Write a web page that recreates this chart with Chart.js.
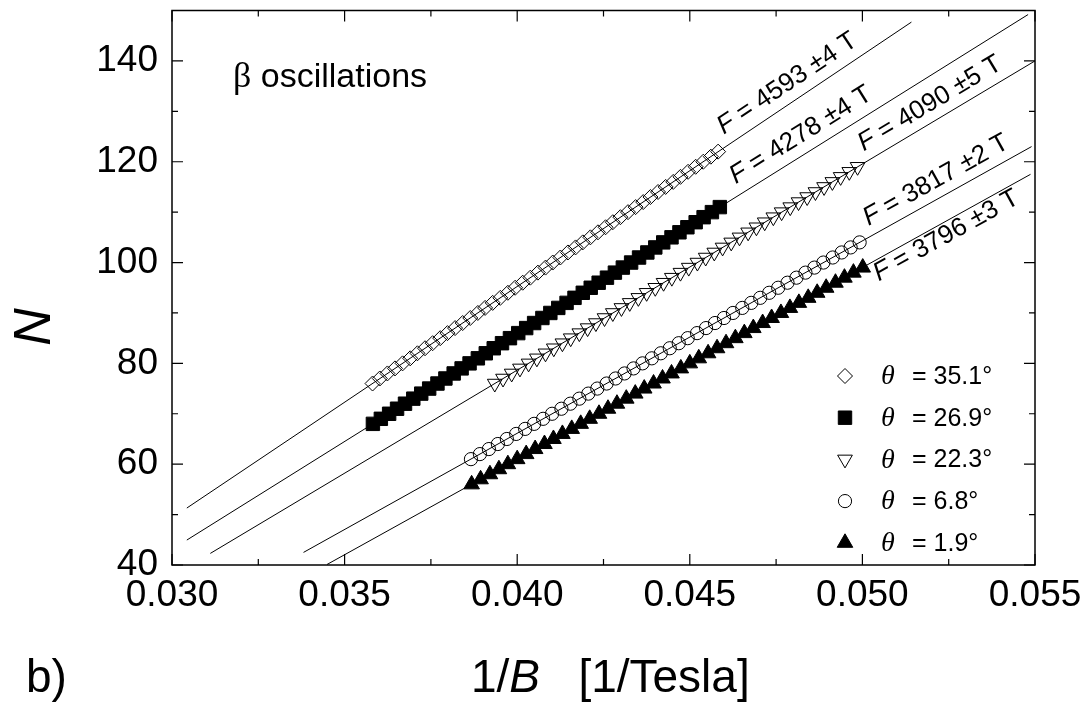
<!DOCTYPE html>
<html>
<head>
<meta charset="utf-8">
<script src="https://cdn.jsdelivr.net/npm/chart.js@4/dist/chart.umd.min.js"></script>
<style>
  html, body { margin: 0; padding: 0; background: #fff; }
  canvas { display: block; }
</style>
</head>
<body>
<canvas id="c" width="1086" height="704"></canvas>
<script>
// ---- axis ticks ----
const xTickValues = [0.030, 0.035, 0.040, 0.045, 0.050, 0.055];
const xTickLabels = ['0.030', '0.035', '0.040', '0.045', '0.050', '0.055'];
const xMinorTicks = [0.0325, 0.0375, 0.0425, 0.0475, 0.0525];
const yTickValues = [40, 60, 80, 100, 120, 140];
const yTickLabels = ['40', '60', '80', '100', '120', '140'];
const yMinorTicks = [50, 70, 90, 110, 130];

// ---- Landau level index N versus 1/B for each tilt angle ----
const angleLabels = ['35.1°', '26.9°', '22.3°', '6.8°', '1.9°'];

const nA = [76,77,78,79,80,81,82,83,84,85,86,87,88,89,90,91,92,93,94,95,96,97,98,99,100,101,102,103,104,105,106,107,108,109,110,111,112,113,114,115,116,117,118,119,120,121,122];
const invBA = [0.03581,0.03602,0.03624,0.03646,0.03668,0.03690,0.03711,0.03733,0.03755,0.03777,0.03798,0.03820,0.03842,0.03864,0.03886,0.03907,0.03929,0.03951,0.03973,0.03994,0.04016,0.04038,0.04060,0.04082,0.04103,0.04125,0.04147,0.04169,0.04190,0.04212,0.04234,0.04256,0.04277,0.04299,0.04321,0.04343,0.04365,0.04386,0.04408,0.04430,0.04452,0.04473,0.04495,0.04517,0.04539,0.04561,0.04582];

const nB = [68,69,70,71,72,73,74,75,76,77,78,79,80,81,82,83,84,85,86,87,88,89,90,91,92,93,94,95,96,97,98,99,100,101,102,103,104,105,106,107,108,109,110,111];
const invBB = [0.03582,0.03605,0.03629,0.03652,0.03675,0.03699,0.03722,0.03745,0.03769,0.03792,0.03816,0.03839,0.03862,0.03886,0.03909,0.03932,0.03956,0.03979,0.04003,0.04026,0.04049,0.04073,0.04096,0.04119,0.04143,0.04166,0.04190,0.04213,0.04236,0.04260,0.04283,0.04306,0.04330,0.04353,0.04377,0.04400,0.04423,0.04447,0.04470,0.04493,0.04517,0.04540,0.04564,0.04587];

const nC = [76,77,78,79,80,81,82,83,84,85,86,87,88,89,90,91,92,93,94,95,96,97,98,99,100,101,102,103,104,105,106,107,108,109,110,111,112,113,114,115,116,117,118,119];
const invBC = [0.03935,0.03959,0.03984,0.04008,0.04033,0.04057,0.04082,0.04106,0.04131,0.04155,0.04180,0.04204,0.04228,0.04253,0.04277,0.04302,0.04326,0.04351,0.04375,0.04400,0.04424,0.04448,0.04473,0.04497,0.04522,0.04546,0.04571,0.04595,0.04620,0.04644,0.04669,0.04693,0.04717,0.04742,0.04766,0.04791,0.04815,0.04840,0.04864,0.04889,0.04913,0.04937,0.04962,0.04986];

const nD = [61,62,63,64,65,66,67,68,69,70,71,72,73,74,75,76,77,78,79,80,81,82,83,84,85,86,87,88,89,90,91,92,93,94,95,96,97,98,99,100,101,102,103,104];
const invBD = [0.03866,0.03892,0.03918,0.03944,0.03970,0.03997,0.04023,0.04049,0.04075,0.04101,0.04128,0.04154,0.04180,0.04206,0.04232,0.04259,0.04285,0.04311,0.04337,0.04363,0.04390,0.04416,0.04442,0.04468,0.04494,0.04521,0.04547,0.04573,0.04599,0.04625,0.04652,0.04678,0.04704,0.04730,0.04756,0.04783,0.04809,0.04835,0.04861,0.04887,0.04914,0.04940,0.04966,0.04992];

const nE = [56,57,58,59,60,61,62,63,64,65,66,67,68,69,70,71,72,73,74,75,76,77,78,79,80,81,82,83,84,85,86,87,88,89,90,91,92,93,94,95,96,97,98,99];
const invBE = [0.03868,0.03894,0.03921,0.03947,0.03973,0.04000,0.04026,0.04052,0.04079,0.04105,0.04131,0.04158,0.04184,0.04210,0.04237,0.04263,0.04289,0.04316,0.04342,0.04368,0.04395,0.04421,0.04447,0.04474,0.04500,0.04526,0.04553,0.04579,0.04605,0.04632,0.04658,0.04684,0.04711,0.04737,0.04764,0.04790,0.04816,0.04843,0.04869,0.04895,0.04922,0.04948,0.04974,0.05001];

// ---- linear fits: frequency, error and drawn segment ----
const fitFreq = [4593, 4278, 4090, 3817, 3796];
const fitErr = [4, 4, 5, 2, 3];
const fitStartX = [0.03043, 0.03043, 0.03111, 0.03381, 0.03449];
const fitStartN = [51.3, 44.95, 42.3, 42.5, 40.1];
const fitEndX = [0.05142, 0.0548, 0.0550, 0.0549, 0.05487];
const fitEndN = [147.7, 149.2, 140.0, 123.0, 117.5];

const pts = (xs, ns) => xs.map((x, i) => ({ x: x, y: ns[i] }));
const series = [pts(invBA, nA), pts(invBB, nB), pts(invBC, nC), pts(invBD, nD), pts(invBE, nE)];

// marker look for each angle (plot, legend)
const markers = [
  { pointStyle: 'rectRot', radius: 7.5, rotation: 0, fill: 'rgba(0,0,0,0)', legendRotation: 0 },
  { pointStyle: 'rect', radius: 9.5, rotation: 0, fill: '#000', legendRotation: 0 },
  { pointStyle: 'triangle', radius: 8.5, rotation: 60, fill: 'rgba(0,0,0,0)', legendRotation: 180 },
  { pointStyle: 'circle', radius: 6.6, rotation: 0, fill: 'rgba(0,0,0,0)', legendRotation: 0 },
  { pointStyle: 'triangle', radius: 9, rotation: 0, fill: '#000', legendRotation: 0 }
];

const datasets = [];
series.forEach((data, i) => {
  const m = markers[i];
  datasets.push({
    label: angleLabels[i],
    data: data,
    showLine: false,
    order: 0,
    pointStyle: m.pointStyle,
    pointRadius: m.radius,
    pointRotation: m.rotation,
    pointBackgroundColor: m.fill,
    pointBorderColor: '#000',
    pointBorderWidth: 1
  });
});
fitFreq.forEach((f, i) => {
  datasets.push({
    label: 'fit ' + f,
    data: [{ x: fitStartX[i], y: fitStartN[i] }, { x: fitEndX[i], y: fitEndN[i] }],
    showLine: true,
    order: 1,
    pointRadius: 0,
    borderColor: '#000',
    borderWidth: 1,
    fill: false
  });
});

const SANS = '"Liberation Sans", Arial, sans-serif';
const SERIF = '"Liberation Serif", "Times New Roman", serif';

function drawRuns(ctx, runs, x, y) {
  let cx = x;
  runs.forEach(r => {
    ctx.font = r[1];
    ctx.fillText(r[0], cx, y);
    cx += ctx.measureText(r[0]).width;
  });
  return cx;
}

const decorations = {
  id: 'decorations',
  afterDraw(chart, args, opts) {
    const ctx = chart.ctx;
    const a = chart.chartArea;
    const xs = chart.scales.x, ys = chart.scales.y;
    ctx.save();
    ctx.strokeStyle = '#000';
    ctx.fillStyle = '#000';

    // frame
    ctx.lineWidth = 1.5;
    ctx.strokeRect(a.left, a.top, a.right - a.left, a.bottom - a.top);

    // inward ticks on all four sides
    ctx.lineWidth = 1.2;
    ctx.beginPath();
    const tick = (vals, len) => {
      vals.forEach(v => {
        const px = xs.getPixelForValue(v);
        ctx.moveTo(px, a.bottom); ctx.lineTo(px, a.bottom - len);
        ctx.moveTo(px, a.top); ctx.lineTo(px, a.top + len);
      });
    };
    const tickY = (vals, len) => {
      vals.forEach(v => {
        const py = ys.getPixelForValue(v);
        ctx.moveTo(a.left, py); ctx.lineTo(a.left + len, py);
        ctx.moveTo(a.right, py); ctx.lineTo(a.right - len, py);
      });
    };
    tick(xTickValues, 11); tick(xMinorTicks, 6);
    tickY(yTickValues, 11); tickY(yMinorTicks, 6);
    ctx.stroke();

    // fit labels along each line
    ctx.textBaseline = 'alphabetic';
    ctx.textAlign = 'left';
    fitFreq.forEach((f, i) => {
      const x0 = xs.getPixelForValue(fitStartX[i]), y0 = ys.getPixelForValue(fitStartN[i]);
      const x1 = xs.getPixelForValue(fitEndX[i]), y1 = ys.getPixelForValue(fitEndN[i]);
      const ang = Math.atan2(y1 - y0, x1 - x0);
      const t = (opts.labelAt[i] - fitStartX[i]) / (fitEndX[i] - fitStartX[i]);
      ctx.save();
      ctx.translate(x0 + t * (x1 - x0), y0 + t * (y1 - y0));
      ctx.rotate(ang);
      drawRuns(ctx, [
        ['F', 'italic 26px ' + SANS],
        [' = ' + f + ' \u00B1' + fitErr[i] + ' T', '26px ' + SANS]
      ], 0, opts.labelOffset[i]);
      ctx.restore();
    });

    // legend
    const lx = opts.legend.x, ly = opts.legend.y, step = opts.legend.step;
    angleLabels.forEach((lab, i) => {
      const m = markers[i];
      const y = ly + i * step;
      ctx.fillStyle = m.fill === '#000' ? '#000' : '#fff';
      ctx.strokeStyle = '#000';
      ctx.lineWidth = 1;
      Chart.helpers.drawPoint(ctx, {
        pointStyle: m.pointStyle, radius: m.radius, rotation: m.legendRotation, borderWidth: 1
      }, lx, y);
      ctx.fillStyle = '#000';
      ctx.textBaseline = 'middle';
      ctx.font = 'italic 28px ' + SERIF;
      ctx.fillText('\u03B8', lx + 36, y + 1);
      ctx.font = '25px ' + SANS;
      ctx.fillText('= ' + lab, lx + 67, y + 1);
    });

    // panel title
    ctx.textBaseline = 'alphabetic';
    drawRuns(ctx, [['\u03B2', '36px ' + SERIF], [' oscillations', '34px ' + SANS]], 233, 87);

    // x axis title and panel tag
    drawRuns(ctx, [['1/', '46px ' + SANS], ['B', 'italic 46px ' + SANS], ['   [1/Tesla]', '46px ' + SANS]], 471, 692);
    ctx.font = '46px ' + SANS;
    ctx.fillText('b)', 26, 692);

    // y axis title
    ctx.save();
    ctx.translate(50, 327);
    ctx.rotate(-Math.PI / 2);
    ctx.font = 'italic 52px ' + SANS;
    ctx.textAlign = 'center';
    ctx.fillText('N', 0, 0);
    ctx.restore();

    ctx.restore();
  }
};

new Chart(document.getElementById('c'), {
  type: 'scatter',
  data: { datasets: datasets },
  plugins: [decorations],
  options: {
    responsive: false,
    animation: false,
    events: [],
    layout: { padding: { top: 9, right: 51, left: 0, bottom: 0 } },
    plugins: {
      legend: { display: false },
      tooltip: { enabled: false },
      decorations: {
        labelAt: [0.04616, 0.04650, 0.05019, 0.05032, 0.05019],
        labelOffset: [-11, -11, -10, -10, 20],
        legend: { x: 845, y: 376, step: 41.7 }
      }
    },
    scales: {
      x: {
        type: 'linear', min: 0.030, max: 0.055,
        grid: { display: false, drawTicks: false },
        border: { display: false },
        afterBuildTicks: s => { s.ticks = xTickValues.map(v => ({ value: v })); },
        afterFit: s => { s.height = 139; s.paddingLeft = 0; s.paddingRight = 0; },
        ticks: {
          padding: 9, color: '#000', autoSkip: false, maxRotation: 0,
          font: { family: 'Liberation Sans', size: 37 },
          callback: (v, i) => xTickLabels[i]
        }
      },
      y: {
        type: 'linear', min: 40, max: 150,
        grid: { display: false, drawTicks: false },
        border: { display: false },
        afterBuildTicks: s => { s.ticks = yTickValues.map(v => ({ value: v })); },
        afterFit: s => { s.width = 172; s.paddingTop = 0; s.paddingBottom = 0; },
        ticks: {
          padding: 14, color: '#000', autoSkip: false,
          font: { family: 'Liberation Sans', size: 37 },
          callback: (v, i) => yTickLabels[i]
        }
      }
    }
  }
});
</script>
</body>
</html>
